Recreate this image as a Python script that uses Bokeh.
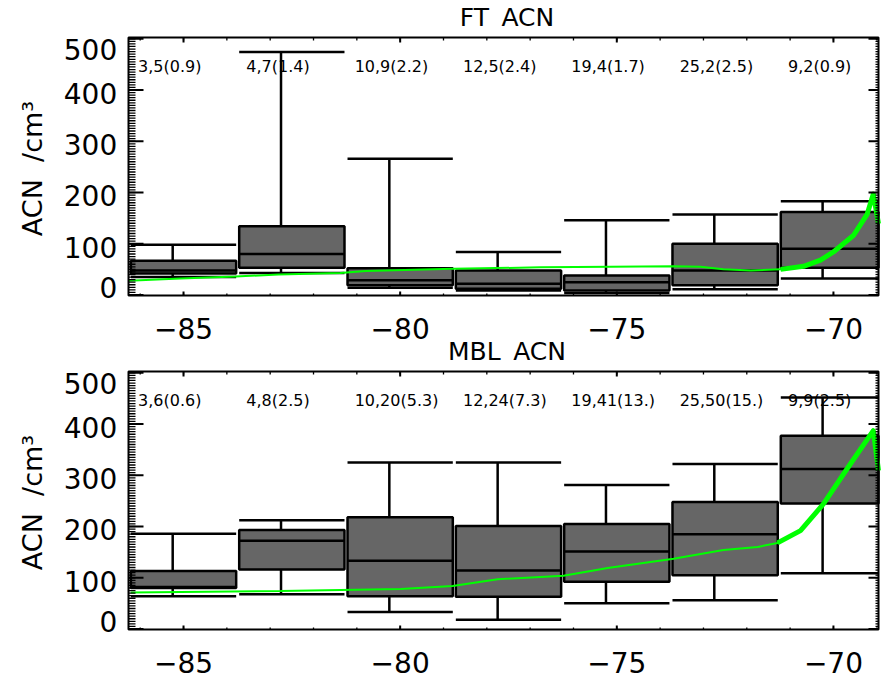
import math
from bokeh.plotting import figure
from bokeh.models import Range1d, ColumnDataSource
from bokeh.embed import file_html
from bokeh.resources import INLINE
from bokeh.core.properties import value

# ---------------- data ----------------
bin_centers = [-85.0, -82.5, -80.0, -77.5, -75.0, -72.5, -70.0]

ft_upper = [98, 474, 266, 84, 146, 157, 183]
ft_q3 = [67, 134, 52, 48, 38, 100, 162]
ft_median = [48, 80, 29, 22, 25, 48, 90]
ft_q1 = [42, 53, 19, 12, 9, 19, 53]
ft_lower = [35, 43, 14, 9, 4, 11, 32]
ft_labels = ["3,5(0.9)", "4,7(1.4)", "10,9(2.2)", "12,5(2.4)", "19,4(1.7)", "25,2(2.5)", "9,2(0.9)"]

mbl_upper = [186, 212, 325, 325, 281, 322, 452]
mbl_q3 = [113, 193, 218, 201, 205, 248, 377]
mbl_median = [82, 172, 133, 114, 151, 185, 312]
mbl_q1 = [80, 116, 64, 63, 92, 105, 245]
mbl_lower = [64, 68, 33, 18, 50, 56, 109]
mbl_labels = ["3,6(0.6)", "4,8(2.5)", "10,20(5.3)", "12,24(7.3)", "19,41(13.)", "25,50(15.)", "9,9(2.5)"]

ft_line_lon = [-86.27, -85.07, -83.80, -82.81, -81.38, -80.80, -78.77, -76.76, -75.15, -73.69,
               -73.07, -72.54, -71.91, -71.22, -70.69, -70.30, -70.00, -69.54, -69.22, -69.08, -68.96]
ft_line_val = [28, 32, 36, 40, 43, 47, 51, 54, 55, 56,
               55, 50, 48, 50, 56, 68, 84, 116, 158, 197, 139]

mbl_line_lon = [-86.22, -82.76, -79.99, -78.79, -77.75, -76.23, -75.21, -73.69, -72.54, -71.75,
                -71.29, -70.76, -70.23, -69.61, -69.08, -68.96]
mbl_line_val = [71, 74, 78, 84, 97, 104, 119, 137, 154, 160,
                168, 192, 244, 322, 387, 309]

x_tick_values = [-85, -80, -75, -70]
x_tick_labels = ["\u221285", "\u221280", "\u221275", "\u221270"]
x_minor_values = list(range(-86, -68))
y_tick_values = [0, 100, 200, 300, 400, 500]
y_tick_labels = ["0", "100", "200", "300", "400", "500"]
y_minor_values = list(range(0, 501, 5))
y_label = "ACN\u00a0\u00a0/cm\u00b3"
titles = ["FT\u2002ACN", "MBL\u2002ACN"]

# ---------------- layout / style ----------------
FONT = "DejaVu Sans"
W, H = 882, 679
LEFT, RIGHT = 128, 878                 # panel frame, pixels
PANELS_PX = [(37, 295), (371, 629)]    # (top, bottom) of each panel frame, pixels
X0, X1 = -86.27, -68.96                # panel x range
Y0, Y1 = -1.0, 502.5                   # panel y range
HALF_W = 1.215
WHISK_OFF = -0.25
LABEL_OFF = -1.05
LABEL_Y = 446
THICK_FROM = -71.0
YLAB_DROP = {0: -7.2, 500: 10.5}       # label centre below tick (px); IDL pulls end labels inward
YLAB_DROP_DEFAULT = 3.3

px_x = (RIGHT - LEFT) / (X1 - X0)

p = figure(width=W, height=H, output_backend="svg", toolbar_location=None,
           x_axis_location=None, y_axis_location=None, title=None,
           x_range=Range1d(X0 - LEFT / px_x, X1 + (W - RIGHT) / px_x),
           min_border=0, min_border_left=0, min_border_right=0,
           min_border_top=0, min_border_bottom=0)
p.outline_line_color = None
p.background_fill_color = "white"
p.border_fill_color = "white"
p.xgrid.grid_line_color = None
p.ygrid.grid_line_color = None

panel_data = [
    ("ft", ft_upper, ft_q3, ft_median, ft_q1, ft_lower, ft_labels, ft_line_lon, ft_line_val, titles[0]),
    ("mbl", mbl_upper, mbl_q3, mbl_median, mbl_q1, mbl_lower, mbl_labels, mbl_line_lon, mbl_line_val, titles[1]),
]

for k, (name, upper, q3, med, q1, lower, labels, lon, conc, title) in enumerate(panel_data):
    top_px, bot_px = PANELS_PX[k]
    px_y = (bot_px - top_px) / (Y1 - Y0)
    rng = Range1d(Y0 - (H - bot_px) / px_y, Y1 + top_px / px_y)
    if k == 0:
        p.y_range = rng
        rn = "default"
    else:
        p.extra_y_ranges = {name: rng}
        rn = name
    dx = lambda px: px / px_x
    dy = lambda px, s=px_y: px / s

    left = [max(c - HALF_W, X0) for c in bin_centers]
    right = [min(c + HALF_W, X1) for c in bin_centers]
    wx = [c + WHISK_OFF for c in bin_centers]
    src = ColumnDataSource(dict(left=left, right=right, wx=wx, upper=upper, q3=q3,
                                med=med, q1=q1, lower=lower))

    # bin annotations
    p.text(x=[c + LABEL_OFF for c in bin_centers], y=[LABEL_Y] * len(bin_centers), text=labels,
           y_range_name=rn, text_font=value(FONT), text_font_size=value("16px"),
           text_align="left", text_baseline="middle", text_color="black")
    # box plots
    kw = dict(source=src, y_range_name=rn, line_color="black", line_width=2.5)
    p.segment(x0="wx", y0="q3", x1="wx", y1="upper", **kw)
    p.segment(x0="wx", y0="lower", x1="wx", y1="q1", **kw)
    p.segment(x0="left", y0="upper", x1="right", y1="upper", **kw)
    p.segment(x0="left", y0="lower", x1="right", y1="lower", **kw)
    p.quad(left="left", right="right", bottom="q1", top="q3", fill_color="#666666", **kw)
    p.segment(x0="left", y0="med", x1="right", y1="med", **kw)

    # green curve (thicker where it climbs)
    p.line(lon, conc, y_range_name=rn, line_color="#00ff00", line_width=2)
    idx = [i for i, x in enumerate(lon) if x >= THICK_FROM]
    i0 = max(idx[0] - 1, 0)
    p.line(lon[i0:], conc[i0:], y_range_name=rn, line_color="#00ff00", line_width=5, line_join="round")

    # panel frame
    p.quad(left=[X0], right=[X1], bottom=[Y0], top=[Y1], y_range_name=rn,
           fill_color=None, line_color="black", line_width=2)

    # inward ticks
    def ticks(x0s, y0s, x1s, y1s, lw):
        p.segment(x0=x0s, y0=y0s, x1=x1s, y1=y1s, y_range_name=rn, line_color="black", line_width=lw)

    nym, ny = len(y_minor_values), len(y_tick_values)
    nxm, nx = len(x_minor_values), len(x_tick_values)
    ticks([X0] * nym, y_minor_values, [X0 + dx(7)] * nym, y_minor_values, 1.3)
    ticks([X0] * ny, y_tick_values, [X0 + dx(15)] * ny, y_tick_values, 2)
    ticks([X1 - dx(3)] * nym, y_minor_values, [X1] * nym, y_minor_values, 1.3)
    ticks([X1 - dx(10)] * ny, y_tick_values, [X1] * ny, y_tick_values, 2)
    ticks(x_minor_values, [Y0] * nxm, x_minor_values, [Y0 + dy(2)] * nxm, 1.3)
    ticks(x_tick_values, [Y0] * nx, x_tick_values, [Y0 + dy(4)] * nx, 2)
    ticks(x_minor_values, [Y1 - dy(3)] * nxm, x_minor_values, [Y1] * nxm, 1.3)
    ticks(x_tick_values, [Y1 - dy(5)] * nx, x_tick_values, [Y1] * nx, 2)

    # tick labels (anchored at their visual centres)
    p.text(x=[X0 - dx(11.3)] * ny,
           y=[v - dy(YLAB_DROP.get(v, YLAB_DROP_DEFAULT)) for v in y_tick_values],
           text=y_tick_labels, y_range_name=rn, text_font=value(FONT),
           text_font_size=value("28px"), text_align="right", text_baseline="alphabetic",
           text_color="black")
    p.text(x=x_tick_values, y=[Y0 - dy(32.5)] * nx, text=x_tick_labels, y_range_name=rn,
           text_font=value(FONT), text_font_size=value("28px"), text_align="center",
           text_baseline="alphabetic", text_color="black")

    # axis title (vertical) and panel title
    p.text(x=[X0 - dx(LEFT - 31.5)], y=[(Y0 + Y1) / 2 - dy(2)], text=[y_label], angle=math.pi / 2,
           y_range_name=rn, text_font=value(FONT), text_font_size=value("27px"),
           text_align="center", text_baseline="alphabetic", text_color="black")
    p.text(x=[X0 + dx(506.5 - LEFT)], y=[Y1 + dy(20)], text=[title], y_range_name=rn,
           text_font=value(FONT), text_font_size=value("25px"), text_align="center",
           text_baseline="alphabetic", text_color="black")

open("out.html", "w").write(file_html(p, INLINE))
